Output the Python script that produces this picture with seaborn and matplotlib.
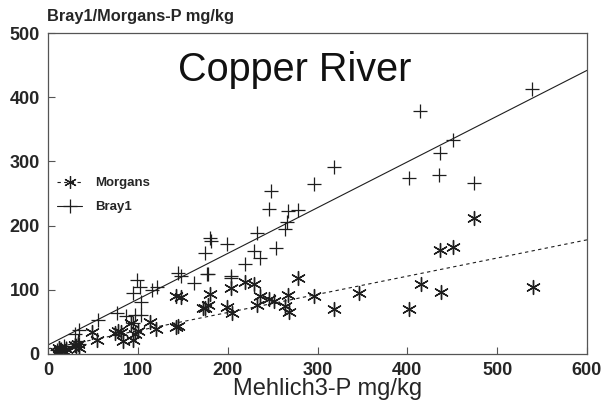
import numpy as np
import pandas as pd
import matplotlib
matplotlib.use("Agg")
import matplotlib.pyplot as plt
import seaborn as sns
from matplotlib.lines import Line2D

# Bray1-P vs Mehlich3-P (mg/kg)
bray_x = [539, 414, 451, 436, 402, 435, 474,
          318, 296, 248, 246, 267, 278, 266, 264, 233, 254, 229, 236, 219, 199,
          180, 181, 175, 177, 204, 204,
          163, 145, 148, 178, 99, 102, 104, 95, 116, 121, 77, 87, 97, 104, 95,
          56, 30, 35,
          10, 12, 15, 14, 18, 20, 33, 35, 13]
bray_y = [413, 378, 333, 313, 274, 279, 266,
          291, 265, 254, 226, 223, 224, 206, 195, 188, 165, 160, 150, 140, 171,
          181, 176, 157, 125, 121, 118,
          111, 126, 122, 125, 115, 104, 81, 95, 100, 104, 64, 59, 61, 60, 48,
          53, 31, 37,
          6, 10, 8, 4, 12, 10, 20, 15, 3]

# Morgans-P vs Mehlich3-P (mg/kg)
morgan_x = [474, 451, 436, 415, 438, 402, 540,
            278, 219, 229, 204, 180, 236, 246, 252, 267, 296, 346, 318, 264,
            268, 233, 199, 205, 173, 178,
            143, 148, 175, 145, 143, 114, 120, 92, 97, 100, 95, 84, 75, 78, 81,
            49, 55, 30, 31,
            13, 10, 15, 18, 12, 20, 35, 33, 16]
morgan_y = [212, 167, 162, 109, 96, 70, 104,
            118, 112, 109, 103, 93, 90, 86, 83, 92, 90, 95, 70, 75,
            65, 76, 73, 64, 72, 77,
            90, 88, 72, 44, 42, 50, 39, 48, 31, 36, 22, 20, 33, 36, 35,
            34, 22, 14, 12,
            6, 3, 2, 5, 9, 8, 10, 16, 4]

# fitted regression lines (intercept, slope) as drawn in the figure
bray_fit = (14, 0.713)
morgan_fit = (8, 0.283)
fit_x = [0, 600]

bray = pd.DataFrame({"mehlich": bray_x, "p": bray_y})
morgan = pd.DataFrame({"mehlich": morgan_x, "p": morgan_y})
bray_line = pd.DataFrame({"mehlich": fit_x,
                          "p": [bray_fit[0] + bray_fit[1] * v for v in fit_x]})
morgan_line = pd.DataFrame({"mehlich": fit_x,
                            "p": [morgan_fit[0] + morgan_fit[1] * v for v in fit_x]})

sns.set_style("ticks")
plt.rcParams["font.family"] = ["Liberation Sans", "DejaVu Sans"]

ink = "#1e1e1e"
star = (6, 2, 0)

fig = plt.figure(figsize=(6.01, 4.04), dpi=100)
ax = fig.add_axes([0.0799, 0.1238, 0.8968, 0.7945])

sns.scatterplot(data=morgan, x="mehlich", y="p", ax=ax, marker=star, s=100,
                color=ink, linewidth=1.0, edgecolor=ink, legend=False)
sns.scatterplot(data=bray, x="mehlich", y="p", ax=ax, marker="+", s=115,
                color=ink, linewidth=0.9, legend=False)
sns.lineplot(data=bray_line, x="mehlich", y="p", ax=ax, color=ink, lw=0.8)
sns.lineplot(data=morgan_line, x="mehlich", y="p", ax=ax, color=ink, lw=0.8,
             linestyle=(0, (3, 3)))

ax.set_xlim(0, 600)
ax.set_ylim(0, 500)
ax.set_xticks(range(0, 601, 100))
ax.set_yticks(range(0, 501, 100))
ax.tick_params(direction="in", length=5, width=0.8, color="#555555",
               labelsize=13, pad=6)
for lab in ax.get_xticklabels() + ax.get_yticklabels():
    lab.set_fontweight("bold")
for sp in ax.spines.values():
    sp.set_visible(True)
    sp.set_color("#555555")
    sp.set_linewidth(0.9)

ax.set_xlabel("")
ax.set_ylabel("")
fig.text(328 / 601, 1 - 389 / 404, "Mehlich3-P mg/kg", fontsize=17,
         va="center", ha="center")
fig.text(47 / 601, 1 - 17 / 404, "Bray1/Morgans-P mg/kg", fontsize=11.8,
         fontweight="bold", va="center", ha="left")

ax.text(0.458, 0.885, "Copper River", transform=ax.transAxes, fontsize=28.5,
        ha="center", va="center", color="#111111")

handles = [
    Line2D([], [], color=ink, lw=0.8, linestyle=(0, (3, 3)), marker=star,
           markersize=9, markeredgewidth=0.9),
    Line2D([], [], color=ink, lw=0.8, marker="+", markersize=10,
           markeredgewidth=0.9),
]
ax.legend(handles, ["Morgans", "Bray1"], loc="center left",
          bbox_to_anchor=(0.0, 0.495), frameon=False, handlelength=1.9,
          handletextpad=1.0, labelspacing=0.9, borderaxespad=0.3,
          prop={"size": 9.5, "weight": "bold"})

fig.savefig("out.png", dpi=100)
